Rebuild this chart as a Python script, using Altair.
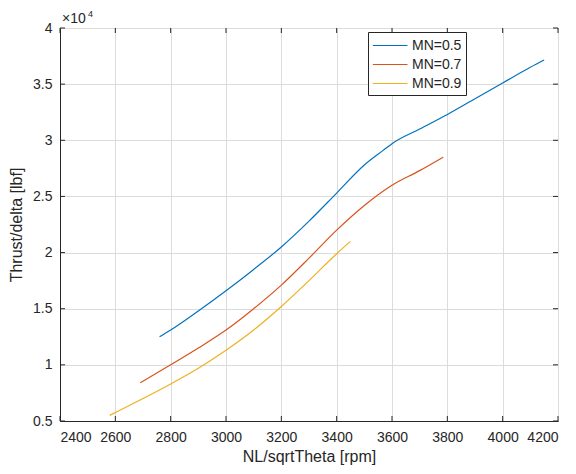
import altair as alt
import pandas as pd

# ---- data ----
rpm_05 = [2760, 2800, 2900, 3000, 3100, 3200, 3300, 3400, 3500, 3568, 3600, 3700, 3800, 3900, 4000, 4100, 4150]
thr_05 = [12500, 13100, 14800, 16600, 18500, 20500, 22800, 25300, 27800, 29100, 29700, 31000, 32300, 33700, 35100, 36500, 37150]

rpm_07 = [2690, 2800, 2900, 3000, 3100, 3200, 3300, 3400, 3500, 3600, 3700, 3785]
thr_07 = [8400, 10000, 11500, 13100, 15000, 17100, 19500, 22000, 24200, 26000, 27300, 28500]

rpm_09 = [2580, 2700, 2800, 2900, 3000, 3100, 3200, 3300, 3400, 3450]
thr_09 = [5500, 7000, 8300, 9700, 11300, 13100, 15200, 17500, 19900, 21000]

series_names = ["MN=0.5", "MN=0.7", "MN=0.9"]
series_colors = ["#0072BD", "#D95319", "#EDB120"]

x_ticks = [2400, 2600, 2800, 3000, 3200, 3400, 3600, 3800, 4000, 4200]
y_ticks = [5000, 10000, 15000, 20000, 25000, 30000, 35000, 40000]

rows = []
for name, xs, ys in zip(series_names, [rpm_05, rpm_07, rpm_09], [thr_05, thr_07, thr_09]):
    for i, (a, b) in enumerate(zip(xs, ys)):
        rows.append({"series": name, "rpm": a, "thrust": b, "order": i})
df = pd.DataFrame(rows)

W, H = 498, 393
TXT = "#262626"
FONT = "Liberation Sans"

xscale = alt.Scale(domain=[2400, 4200], nice=False, zero=False)
yscale = alt.Scale(domain=[5000, 40000], nice=False, zero=False)

lines = alt.Chart(df).mark_line(strokeWidth=1.2, interpolate="monotone").encode(
    x=alt.X("rpm:Q", scale=xscale,
            axis=alt.Axis(values=x_ticks, title="NL/sqrtTheta [rpm]", grid=True, ticks=False,
                          labelPadding=9, titlePadding=4, format="d")),
    y=alt.Y("thrust:Q", scale=yscale,
            axis=alt.Axis(values=y_ticks, title="Thrust/delta [lbf]", grid=True, ticks=False,
                          labelPadding=8, titlePadding=8,
                          labelExpr="format(datum.value/10000, '')")),
    color=alt.Color("series:N", scale=alt.Scale(domain=series_names, range=series_colors),
                    legend=alt.Legend(title=None, orient="none", legendX=308, legendY=4,
                                      fillColor="white", strokeColor=TXT, padding=4,
                                      symbolType="M-1,0H3", symbolSize=300, symbolStrokeWidth=1.2,
                                      labelFontSize=14, labelFont=FONT, labelColor=TXT,
                                      rowPadding=2, labelOffset=21)),
    order="order:Q",
)

xt = pd.DataFrame({"v": x_ticks})
yt = pd.DataFrame({"v": y_ticks})

tick_color = TXT
xtick_b = alt.Chart(xt).mark_rule(color=tick_color, strokeWidth=1).encode(
    x=alt.X("v:Q", scale=xscale), y=alt.value(H), y2=alt.value(H - 5))
xtick_t = alt.Chart(xt).mark_rule(color=tick_color, strokeWidth=1).encode(
    x=alt.X("v:Q", scale=xscale), y=alt.value(0), y2=alt.value(5))
ytick_l = alt.Chart(yt).mark_rule(color=tick_color, strokeWidth=1).encode(
    y=alt.Y("v:Q", scale=yscale), x=alt.value(0), x2=alt.value(5))
ytick_r = alt.Chart(yt).mark_rule(color=tick_color, strokeWidth=1).encode(
    y=alt.Y("v:Q", scale=yscale), x=alt.value(W), x2=alt.value(W - 5))

exp_base = alt.Chart(pd.DataFrame({"t": ["\u00d710"]})).mark_text(
    align="left", baseline="alphabetic", fontSize=14, font=FONT, color=TXT
).encode(text="t:N", x=alt.value(2), y=alt.value(-5))
exp_sup = alt.Chart(pd.DataFrame({"t": ["4"]})).mark_text(
    align="left", baseline="alphabetic", fontSize=9, font=FONT, color=TXT
).encode(text="t:N", x=alt.value(28), y=alt.value(-11))

chart = alt.layer(lines, xtick_b, xtick_t, ytick_l, ytick_r, exp_base, exp_sup).properties(
    width=W, height=H,
    autosize=alt.AutoSizeParams(type="none"),
    padding={"left": 52, "top": 20, "right": 10, "bottom": 50},
    background="white",
).configure_view(
    stroke=TXT, strokeWidth=1
).configure_axis(
    gridColor="#dcdcdc", gridWidth=1, domainColor=TXT, domainWidth=1,
    labelFont=FONT, labelFontSize=14, labelColor=TXT,
    titleFont=FONT, titleFontSize=16, titleFontWeight="normal", titleColor=TXT,
)

chart.save("out.html", embed_options={"renderer": "svg", "actions": False})
